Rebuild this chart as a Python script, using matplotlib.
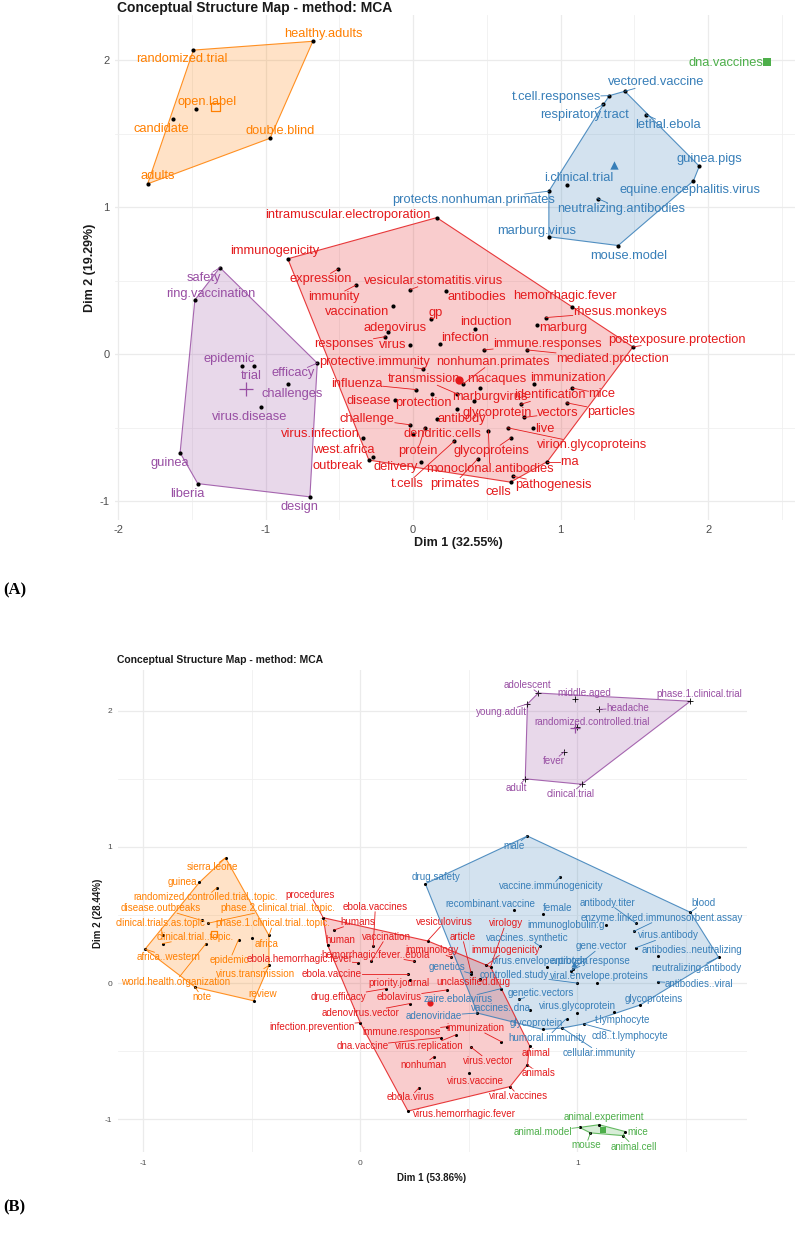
import numpy as np
import matplotlib
matplotlib.use("Agg")
import matplotlib.pyplot as plt
from matplotlib.patches import Polygon

plt.rcParams['font.family'] = ['Liberation Sans', 'DejaVu Sans']

# ---------------- Panel A (Dim 1 32.55% / Dim 2 19.29%) ----------------
# (term, x, y, label_x, label_y)
a_orange = [
    ("randomized.trial", -1.49, 2.07, -1.57, 2.01),
    ("healthy.adults", -0.68, 2.13, -0.61, 2.18),
    ("open.label", -1.47, 1.67, -1.40, 1.72),
    ("candidate", -1.63, 1.60, -1.71, 1.53),
    ("double.blind", -0.97, 1.47, -0.90, 1.52),
    ("adults", -1.80, 1.16, -1.73, 1.21),
]
a_blue = [
    ("vectored.vaccine", 1.435, 1.79, 1.65, 1.85),
    ("t.cell.responses", 1.33, 1.76, 0.97, 1.75),
    ("respiratory.tract", 1.29, 1.70, 1.16, 1.63),
    ("lethal.ebola", 1.58, 1.63, 1.73, 1.56),
    ("guinea.pigs", 1.94, 1.28, 2.01, 1.33),
    ("equine.encephalitis.virus", 1.90, 1.18, 1.88, 1.12),
    ("i.clinical.trial", 1.04, 1.15, 1.12, 1.20),
    ("neutralizing.antibodies", 1.25, 1.06, 1.41, 0.99),
    ("protects.nonhuman.primates", 0.92, 1.11, 0.41, 1.05),
    ("marburg.virus", 0.92, 0.80, 0.84, 0.84),
    ("mouse.model", 1.39, 0.74, 1.46, 0.67),
]
a_green = [
    ("dna.vaccines", 2.40, 1.99, 2.12, 1.98),
]
a_purple = [
    ("safety", -1.31, 0.59, -1.42, 0.52),
    ("ring.vaccination", -1.48, 0.37, -1.37, 0.41),
    ("epidemic", -1.16, -0.08, -1.25, -0.03),
    ("trial", -1.08, -0.08, -1.10, -0.15),
    ("efficacy", -0.65, -0.06, -0.81, -0.13),
    ("challenges", -0.85, -0.20, -0.82, -0.27),
    ("virus.disease", -1.03, -0.36, -1.11, -0.43),
    ("guinea", -1.58, -0.67, -1.65, -0.74),
    ("liberia", -1.46, -0.88, -1.53, -0.95),
    ("design", -0.70, -0.97, -0.77, -1.04),
]
a_red = [
    ("immunogenicity", -0.85, 0.65, -0.94, 0.70),
    ("intramuscular.electroporation", 0.16, 0.93, -0.44, 0.95),
    ("expression", -0.51, 0.58, -0.63, 0.51),
    ("immunity", -0.39, 0.47, -0.54, 0.39),
    ("vesicular.stomatitis.virus", -0.02, 0.44, 0.14, 0.50),
    ("antibodies", 0.22, 0.43, 0.43, 0.39),
    ("vaccination", -0.14, 0.33, -0.38, 0.29),
    ("gp", 0.12, 0.24, 0.15, 0.28),
    ("hemorrhagic.fever", 1.08, 0.32, 1.03, 0.40),
    ("rhesus.monkeys", 0.90, 0.25, 1.40, 0.29),
    ("marburg", 0.84, 0.20, 1.02, 0.18),
    ("induction", 0.42, 0.17, 0.49, 0.22),
    ("adenovirus", -0.17, 0.15, -0.12, 0.18),
    ("responses", -0.19, 0.12, -0.47, 0.07),
    ("virus", -0.02, 0.06, -0.14, 0.06),
    ("infection", 0.18, 0.07, 0.35, 0.11),
    ("immune.responses", 0.48, 0.03, 0.91, 0.07),
    ("mediated.protection", 0.77, 0.03, 1.35, -0.03),
    ("postexposure.protection", 1.49, 0.05, 1.79, 0.10),
    ("protective.immunity", 0.07, -0.10, -0.26, -0.05),
    ("nonhuman.primates", 0.34, -0.20, 0.54, -0.05),
    ("transmission", 0.30, -0.27, 0.07, -0.17),
    ("macaques", 0.45, -0.23, 0.57, -0.17),
    ("influenza", 0.02, -0.24, -0.38, -0.20),
    ("immunization", 0.82, -0.20, 1.05, -0.16),
    ("mice", 1.08, -0.23, 1.28, -0.27),
    ("marburgvirus", 0.41, -0.32, 0.52, -0.29),
    ("identification", 0.73, -0.34, 0.93, -0.28),
    ("particles", 1.04, -0.33, 1.34, -0.39),
    ("vectors", 0.75, -0.43, 0.98, -0.40),
    ("glycoprotein", 0.30, -0.37, 0.57, -0.40),
    ("disease", -0.12, -0.31, -0.30, -0.32),
    ("protection", 0.13, -0.27, 0.07, -0.33),
    ("challenge", -0.02, -0.48, -0.31, -0.44),
    ("antibody", 0.16, -0.44, 0.33, -0.44),
    ("live", 0.81, -0.50, 0.89, -0.51),
    ("virion.glycoproteins", 0.64, -0.50, 1.21, -0.62),
    ("dendritic.cells", 0.00, -0.54, 0.20, -0.54),
    ("virus.infection", -0.34, -0.57, -0.63, -0.54),
    ("west.africa", -0.27, -0.70, -0.47, -0.65),
    ("glycoproteins", 0.66, -0.57, 0.53, -0.66),
    ("protein", 0.08, -0.50, 0.03, -0.66),
    ("rna", 0.91, -0.73, 1.06, -0.73),
    ("monoclonal.antibodies", 0.51, -0.52, 0.52, -0.78),
    ("t.cells", 0.28, -0.59, -0.04, -0.88),
    ("primates", 0.44, -0.71, 0.28, -0.88),
    ("cells", 0.66, -0.87, 0.58, -0.94),
    ("pathogenesis", 0.68, -0.83, 0.95, -0.89),
    ("delivery", 0.05, -0.73, -0.12, -0.77),
    ("outbreak", -0.30, -0.72, -0.51, -0.76),
]

# ---------------- Panel B (Dim 1 53.86% / Dim 2 28.44%) ----------------
b_orange = [
    ("sierra.leone", -0.62, 0.92, -0.68, 0.85),
    ("guinea", -0.74, 0.74, -0.82, 0.74),
    ("randomized.controlled.trial..topic.", -0.66, 0.70, -0.71, 0.63),
    ("disease.outbreaks", -0.73, 0.46, -0.92, 0.55),
    ("phase.2.clinical.trial..topic.", -0.70, 0.44, -0.38, 0.55),
    ("clinical.trials.as.topic", -0.91, 0.35, -0.92, 0.44),
    ("phase.1.clinical.trial..topic.", -0.42, 0.35, -0.40, 0.44),
    ("clinical.trial..topic.", -0.91, 0.29, -0.76, 0.34),
    ("africa", -0.50, 0.33, -0.43, 0.29),
    ("epidemic", -0.56, 0.32, -0.60, 0.17),
    ("africa..western", -0.99, 0.25, -0.88, 0.19),
    ("virus.transmission", -0.42, 0.13, -0.48, 0.07),
    ("world.health.organization", -0.71, 0.29, -0.85, 0.01),
    ("note", -0.76, -0.03, -0.73, -0.10),
    ("review", -0.49, -0.13, -0.45, -0.08),
]
b_purple = [
    ("adolescent", 0.82, 2.13, 0.77, 2.19),
    ("young.adult", 0.77, 2.05, 0.65, 1.99),
    ("middle.aged", 0.99, 2.09, 1.03, 2.13),
    ("headache", 1.10, 2.01, 1.23, 2.02),
    ("phase.1.clinical.trial", 1.52, 2.07, 1.56, 2.12),
    ("randomized.controlled.trial", 1.00, 1.88, 1.07, 1.92),
    ("fever", 0.94, 1.70, 0.89, 1.63),
    ("adult", 0.76, 1.50, 0.72, 1.43),
    ("clinical.trial", 1.02, 1.46, 0.97, 1.39),
]
b_blue = [
    ("male", 0.77, 1.08, 0.71, 1.01),
    ("drug.safety", 0.30, 0.73, 0.35, 0.78),
    ("vaccine.immunogenicity", 0.92, 0.78, 0.88, 0.71),
    ("recombinant.vaccine", 0.71, 0.54, 0.60, 0.58),
    ("female", 0.84, 0.51, 0.91, 0.55),
    ("antibody.titer", 1.27, 0.44, 1.14, 0.59),
    ("blood", 1.52, 0.52, 1.58, 0.59),
    ("enzyme.linked.immunosorbent.assay", 1.26, 0.38, 1.39, 0.48),
    ("immunoglobulin.g", 1.13, 0.43, 0.95, 0.43),
    ("virus.antibody", 1.27, 0.26, 1.42, 0.35),
    ("vaccines..synthetic", 0.83, 0.27, 0.77, 0.33),
    ("gene.vector", 0.97, 0.09, 1.11, 0.27),
    ("antibodies..neutralizing", 1.37, 0.20, 1.53, 0.24),
    ("antibody.response", 0.98, 0.10, 1.06, 0.16),
    ("virus.envelope.protein", 0.86, 0.12, 0.83, 0.16),
    ("neutralizing.antibody", 1.65, 0.19, 1.55, 0.11),
    ("viral.envelope.proteins", 1.09, 0.00, 1.10, 0.05),
    ("antibodies..viral", 1.37, 0.01, 1.56, -0.01),
    ("controlled.study", 1.00, 0.00, 0.71, 0.06),
    ("genetics", 0.51, 0.07, 0.40, 0.12),
    ("genetic.vectors", 0.73, -0.12, 0.83, -0.07),
    ("zaire.ebolavirus", 0.65, -0.04, 0.45, -0.12),
    ("vaccines..dna", 0.78, -0.20, 0.65, -0.18),
    ("adenoviridae", 0.54, -0.22, 0.34, -0.24),
    ("virus.glycoprotein", 1.00, -0.22, 1.00, -0.17),
    ("glycoproteins", 1.29, -0.16, 1.35, -0.12),
    ("glycoprotein", 0.84, -0.34, 0.81, -0.29),
    ("t.lymphocyte", 1.17, -0.21, 1.21, -0.27),
    ("cd8..t.lymphocyte", 1.03, -0.30, 1.24, -0.39),
    ("humoral.immunity", 0.95, -0.26, 0.86, -0.40),
    ("cellular.immunity", 0.93, -0.33, 1.10, -0.51),
]
b_red = [
    ("procedures", -0.17, 0.48, -0.23, 0.65),
    ("ebola.vaccines", 0.06, 0.27, 0.07, 0.56),
    ("humans", -0.12, 0.39, -0.01, 0.45),
    ("human", -0.15, 0.28, -0.09, 0.32),
    ("vaccination", 0.05, 0.16, 0.12, 0.34),
    ("hemorrhagic.fever..ebola", 0.25, 0.16, 0.07, 0.21),
    ("ebola.hemorrhagic.fever", -0.01, 0.15, -0.28, 0.18),
    ("ebola.vaccine", 0.22, 0.07, -0.13, 0.07),
    ("vesiculovirus", 0.31, 0.31, 0.39, 0.45),
    ("article", 0.51, 0.08, 0.47, 0.34),
    ("virology", 0.60, 0.12, 0.67, 0.44),
    ("immunology", 0.42, 0.19, 0.33, 0.24),
    ("immunogenicity", 0.58, 0.13, 0.67, 0.24),
    ("priority.journal", 0.23, 0.02, 0.18, 0.00),
    ("unclassified.drug", 0.55, 0.03, 0.52, 0.01),
    ("drug.efficacy", 0.12, -0.04, -0.10, -0.10),
    ("ebolavirus", 0.40, -0.05, 0.18, -0.10),
    ("adenovirus.vector", 0.23, -0.15, 0.00, -0.22),
    ("infection.prevention", 0.00, -0.29, -0.22, -0.32),
    ("immune.response", 0.40, -0.32, 0.19, -0.36),
    ("immunization", 0.65, -0.43, 0.53, -0.33),
    ("dna.vaccine", 0.37, -0.40, 0.01, -0.46),
    ("virus.replication", 0.44, -0.38, 0.32, -0.46),
    ("virus.vector", 0.51, -0.47, 0.59, -0.57),
    ("nonhuman", 0.34, -0.54, 0.29, -0.60),
    ("animal", 0.78, -0.46, 0.81, -0.51),
    ("animals", 0.77, -0.60, 0.82, -0.66),
    ("virus.vaccine", 0.50, -0.66, 0.53, -0.72),
    ("viral.vaccines", 0.69, -0.76, 0.73, -0.83),
    ("ebola.virus", 0.27, -0.77, 0.23, -0.84),
    ("virus.hemorrhagic.fever", 0.22, -0.94, 0.48, -0.96),
]
b_green = [
    ("animal.experiment", 1.10, -1.04, 1.12, -0.98),
    ("animal.model", 1.01, -1.06, 0.84, -1.09),
    ("mouse", 1.06, -1.10, 1.04, -1.19),
    ("mice", 1.22, -1.09, 1.28, -1.09),
    ("animal.cell", 1.21, -1.12, 1.26, -1.20),
]

RED = "#E41A1C"
BLUE = "#377EB8"
GREEN = "#4DAF4A"
PURPLE = "#984EA3"
ORANGE = "#FF7F00"


def convex_hull(points):
    pts = sorted(set(points))
    if len(pts) < 3:
        return pts

    def cross(o, a, b):
        return (a[0] - o[0]) * (b[1] - o[1]) - (a[1] - o[1]) * (b[0] - o[0])

    lower, upper = [], []
    for p in pts:
        while len(lower) >= 2 and cross(lower[-2], lower[-1], p) <= 0:
            lower.pop()
        lower.append(p)
    for p in reversed(pts):
        while len(upper) >= 2 and cross(upper[-2], upper[-1], p) <= 0:
            upper.pop()
        upper.append(p)
    return lower[:-1] + upper[:-1]


def draw_cluster(ax, terms, color, centroid, fs, dot_size, dot_marker="o"):
    xs = np.array([t[1] for t in terms])
    ys = np.array([t[2] for t in terms])
    if len(terms) >= 3:
        hull = convex_hull(list(zip(xs, ys)))
        ax.add_patch(Polygon(hull, closed=True, facecolor=color, alpha=0.22,
                             edgecolor="none", zorder=1))
        ax.add_patch(Polygon(hull, closed=True, fill=False, edgecolor=color,
                             lw=0.8, alpha=0.85, zorder=2))
    if dot_marker == "+":
        ax.scatter(xs, ys, s=dot_size * 4, marker="+", color="black", lw=0.6, zorder=3)
    else:
        ax.scatter(xs, ys, s=dot_size, color="black", lw=0, zorder=3)
    cx, cy = xs.mean(), ys.mean()
    if centroid == "s_open":
        ax.scatter([cx], [cy], s=dot_size * 4, marker="s", facecolors="none",
                   edgecolors=color, lw=0.9, zorder=4)
    elif centroid == "+":
        ax.scatter([cx], [cy], s=dot_size * 10, marker="+", color=color, lw=0.9, zorder=4)
    else:
        ax.scatter([cx], [cy], s=dot_size * 4, marker=centroid, color=color, lw=0, zorder=4)
    texts = []
    for term, x, y, lx, ly in terms:
        t = ax.text(lx, ly, term, color=color, fontsize=fs, ha="center",
                    va="center", zorder=5)
        texts.append((t, x, y, color))
    return texts


def add_leaders(ax, texts, renderer, min_len):
    inv = ax.transData.inverted()
    for t, x, y, color in texts:
        bb = t.get_window_extent(renderer)
        px, py = ax.transData.transform((x, y))
        if bb.x0 - 1 <= px <= bb.x1 + 1 and bb.y0 - 1 <= py <= bb.y1 + 1:
            continue
        cx, cy = (bb.x0 + bb.x1) / 2, (bb.y0 + bb.y1) / 2
        dx, dy = cx - px, cy - py
        s = 1.0
        for edge in (bb.x0, bb.x1):
            if dx != 0:
                k = (edge - px) / dx
                if 0 < k < s and bb.y0 <= py + k * dy <= bb.y1:
                    s = k
        for edge in (bb.y0, bb.y1):
            if dy != 0:
                k = (edge - py) / dy
                if 0 < k < s and bb.x0 <= px + k * dx <= bb.x1:
                    s = k
        ex, ey = px + s * dx, py + s * dy
        if np.hypot(ex - px, ey - py) < min_len:
            continue
        seg = inv.transform([(px, py), (ex, ey)])
        ax.plot(seg[:, 0], seg[:, 1], color=color, lw=0.6, zorder=4)


def style_axes(ax, xlim, ylim, major, fs, pad_x, pad_y):
    ax.set_xticks(major[0])
    ax.set_yticks(major[1])
    ax.set_xticks(np.arange(-2.5, 3.0, 0.5), minor=True)
    ax.set_yticks(np.arange(-1.5, 3.0, 0.5), minor=True)
    ax.set_xticklabels([str(v) for v in major[0]])
    ax.set_yticklabels([str(v) for v in major[1]])
    # limits after ticks, set_ticks would widen the view otherwise
    ax.set_xlim(*xlim)
    ax.set_ylim(*ylim)
    ax.grid(True, which="major", color="#EBEBEB", lw=0.9)
    ax.grid(True, which="minor", color="#F0F0F0", lw=0.6)
    ax.set_axisbelow(True)
    for sp in ax.spines.values():
        sp.set_visible(False)
    ax.tick_params(which="both", length=0, labelsize=fs, labelcolor="#4D4D4D")
    ax.tick_params(axis="x", pad=pad_x)
    ax.tick_params(axis="y", pad=pad_y)


fig = plt.figure(figsize=(8, 12.36), dpi=100)

# Panel A
axA = fig.add_axes([0.144, 0.579, 0.85, 0.409])
style_axes(axA, (-2.02, 2.59), (-1.13, 2.31), ([-2, -1, 0, 1, 2], [-1, 0, 1, 2]), 8, 3, 4)
textsA = []
textsA += draw_cluster(axA, a_orange, ORANGE, "s_open", 9.3, 9)
textsA += draw_cluster(axA, a_blue, BLUE, "^", 9.3, 9)
textsA += draw_cluster(axA, a_purple, PURPLE, "+", 9.3, 9)
textsA += draw_cluster(axA, a_red, RED, "o", 9.3, 9)
textsA += draw_cluster(axA, a_green, GREEN, "s", 9.3, 9)

# Panel B
axB = fig.add_axes([0.1475, 0.068, 0.786, 0.39])
style_axes(axB, (-1.115, 1.78), (-1.24, 2.30), ([-1, 0, 1], [-1, 0, 1, 2]), 6, 6, 4)
textsB = []
textsB += draw_cluster(axB, b_orange, ORANGE, "s_open", 7.1, 5)
textsB += draw_cluster(axB, b_purple, PURPLE, "+", 7.1, 5, dot_marker="+")
textsB += draw_cluster(axB, b_blue, BLUE, "^", 7.1, 5)
textsB += draw_cluster(axB, b_red, RED, "o", 7.1, 5)
textsB += draw_cluster(axB, b_green, GREEN, "s", 7.1, 5)

# titles, axis labels, panel letters
fig.text(0.146, 1 - 8 / 1236, "Conceptual Structure Map - method: MCA",
         fontsize=10, fontweight="bold", va="center", ha="left", color="#1A1A1A")
fig.text(458 / 800, 1 - 543 / 1236, "Dim 1 (32.55%)", fontsize=9,
         fontweight="bold", ha="center", va="center", color="#1A1A1A")
fig.text(90 / 800, 1 - 268 / 1236, "Dim 2 (19.29%)", fontsize=9, rotation=90,
         fontweight="bold", ha="center", va="center", color="#1A1A1A")

fig.text(0.146, 1 - 660 / 1236, "Conceptual Structure Map - method: MCA",
         fontsize=7.5, fontweight="bold", va="center", ha="left", color="#1A1A1A")
fig.text(432 / 800, 1 - 1178 / 1236, "Dim 1 (53.86%)", fontsize=7,
         fontweight="bold", ha="center", va="center", color="#1A1A1A")
fig.text(98 / 800, 1 - 913 / 1236, "Dim 2 (28.44%)", fontsize=7, rotation=90,
         fontweight="bold", ha="center", va="center", color="#1A1A1A")

fig.text(3 / 800, 1 - 590 / 1236, "(A)", fontsize=12, fontweight="bold",
         family="Liberation Serif", ha="left", va="center")
fig.text(3 / 800, 1 - 1207 / 1236, "(B)", fontsize=12, fontweight="bold",
         family="Liberation Serif", ha="left", va="center")

fig.canvas.draw()
renderer = fig.canvas.get_renderer()
add_leaders(axA, textsA, renderer, 8)
add_leaders(axB, textsB, renderer, 5)

plt.savefig("out.png", dpi=100)
plt.close(fig)
